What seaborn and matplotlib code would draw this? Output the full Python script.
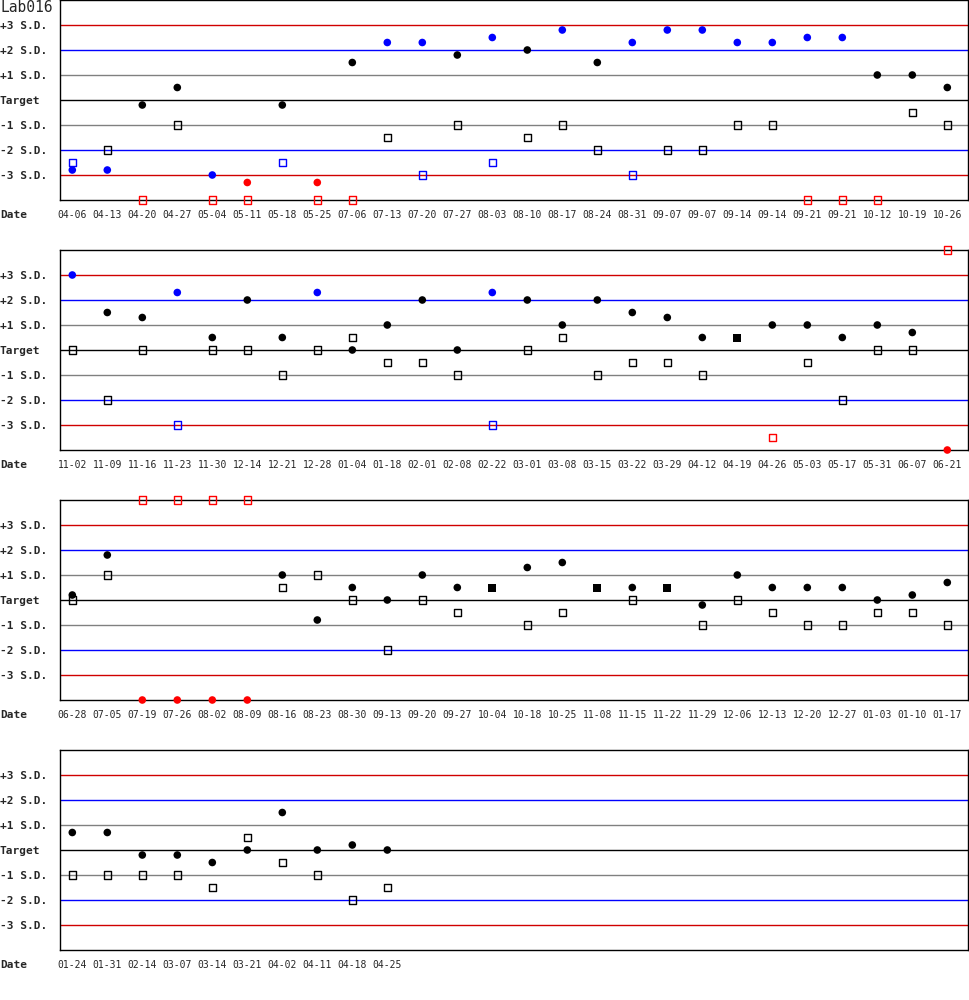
import numpy as np
import pandas as pd
import matplotlib
matplotlib.use("Agg")
import matplotlib.pyplot as plt
import seaborn as sns

# ---------------- data ----------------
title = "Lab016"

dates1 = ["04-06", "04-13", "04-20", "04-27", "05-04", "05-11", "05-18", "05-25", "07-06",
          "07-13", "07-20", "07-27", "08-03", "08-10", "08-17", "08-24", "08-31", "09-07",
          "09-07", "09-14", "09-14", "09-21", "09-21", "10-12", "10-19", "10-26"]
circ1 = [-2.8, -2.8, -0.2, 0.5, -3.0, -3.3, -0.2, -3.3, 1.5, 2.3, 2.3, 1.8, 2.5, 2.0, 2.8,
         1.5, 2.3, 2.8, 2.8, 2.3, 2.3, 2.5, 2.5, 1.0, 1.0, 0.5]
sq1 = [-2.5, -2.0, -4.0, -1.0, -4.0, -4.0, -2.5, -4.0, -4.0, -1.5, -3.0, -1.0, -2.5, -1.5,
       -1.0, -2.0, -3.0, -2.0, -2.0, -1.0, -1.0, -4.0, -4.0, -4.0, -0.5, -1.0]

dates2 = ["11-02", "11-09", "11-16", "11-23", "11-30", "12-14", "12-21", "12-28", "01-04",
          "01-18", "02-01", "02-08", "02-22", "03-01", "03-08", "03-15", "03-22", "03-29",
          "04-12", "04-19", "04-26", "05-03", "05-17", "05-31", "06-07", "06-21"]
circ2 = [3.0, 1.5, 1.3, 2.3, 0.5, 2.0, 0.5, 2.3, 0.0, 1.0, 2.0, 0.0, 2.3, 2.0, 1.0, 2.0,
         1.5, 1.3, 0.5, 0.5, 1.0, 1.0, 0.5, 1.0, 0.7, -4.0]
sq2 = [0.0, -2.0, 0.0, -3.0, 0.0, 0.0, -1.0, 0.0, 0.5, -0.5, -0.5, -1.0, -3.0, 0.0, 0.5,
       -1.0, -0.5, -0.5, -1.0, 0.5, -3.5, -0.5, -2.0, 0.0, 0.0, 4.0]

dates3 = ["06-28", "07-05", "07-19", "07-26", "08-02", "08-09", "08-16", "08-23", "08-30",
          "09-13", "09-20", "09-27", "10-04", "10-18", "10-25", "11-08", "11-15", "11-22",
          "11-29", "12-06", "12-13", "12-20", "12-27", "01-03", "01-10", "01-17"]
circ3 = [0.2, 1.8, -4.0, -4.0, -4.0, -4.0, 1.0, -0.8, 0.5, 0.0, 1.0, 0.5, 0.5, 1.3, 1.5,
         0.5, 0.5, 0.5, -0.2, 1.0, 0.5, 0.5, 0.5, 0.0, 0.2, 0.7]
sq3 = [0.0, 1.0, 4.0, 4.0, 4.0, 4.0, 0.5, 1.0, 0.0, -2.0, 0.0, -0.5, 0.5, -1.0, -0.5, 0.5,
       0.0, 0.5, -1.0, 0.0, -0.5, -1.0, -1.0, -0.5, -0.5, -1.0]

dates4 = ["01-24", "01-31", "02-14", "03-07", "03-14", "03-21", "04-02", "04-11", "04-18",
          "04-25"]
circ4 = [0.7, 0.7, -0.2, -0.2, -0.5, 0.0, 1.5, 0.0, 0.2, 0.0]
sq4 = [-1.0, -1.0, -1.0, -1.0, -1.5, 0.5, -0.5, -1.0, -2.0, -1.5]

panels = [(dates1, circ1, sq1), (dates2, circ2, sq2), (dates3, circ3, sq3), (dates4, circ4, sq4)]

sd_levels = [3, 2, 1, 0, -1, -2, -3]
sd_labels = ["+3 S.D.", "+2 S.D.", "+1 S.D.", "Target", "-1 S.D.", "-2 S.D.", "-3 S.D."]
sd_colors = ["#d00000", "#0000ff", "#808080", "#000000", "#808080", "#0000ff", "#d00000"]

palette = {"ok": "#000000", "warn": "#0000ff", "out": "#ff0000"}

# ---------------- style ----------------
sns.set_style("white")
plt.rcParams["font.family"] = ["DejaVu Sans Mono", "DejaVu Sans"]

W, H = 970, 1000
fig = plt.figure(figsize=(W / 100, H / 100), dpi=100)

AX_L, AX_R = 60.3, 968.5
X0, DX = 72.3, 35.0
xmin = (AX_L - X0) / DX
xmax = (AX_R - X0) / DX


def status(v):
    a = abs(v)
    if a > 3:
        return "out"
    if a > 2:
        return "warn"
    return "ok"


for k, (dates, circ, sq) in enumerate(panels):
    top = 250 * k
    ax = fig.add_axes([AX_L / W, 1 - (top + 200) / H, (AX_R - AX_L) / W, 200 / H])
    n = len(dates)
    df = pd.DataFrame({"pos": np.arange(n), "date": dates, "circ": circ, "sq": sq})
    df["both"] = df["circ"] == df["sq"]
    df["cst"] = df["circ"].map(status)
    df["sst"] = df["sq"].map(status)

    for lvl, col in zip(sd_levels, sd_colors):
        ax.axhline(lvl, color=col, lw=1.0, zorder=1)

    single = df[~df["both"]]
    both = df[df["both"]]

    # open squares
    if len(single):
        sns.scatterplot(data=single, x="pos", y="sq", hue="sst", palette=palette,
                        marker="s", s=26, linewidth=0, legend=False, ax=ax,
                        clip_on=False, zorder=3)
        coll = ax.collections[-1]
        fc = coll.get_facecolors()
        coll.set_edgecolors(fc)
        coll.set_facecolors("none")
        coll.set_linewidths(1.0)
    # coinciding values -> filled square
    if len(both):
        sns.scatterplot(data=both, x="pos", y="circ", color="#000000",
                        marker="s", s=40, linewidth=0, legend=False, ax=ax,
                        clip_on=False, zorder=4)
    # filled circles
    if len(single):
        sns.scatterplot(data=single, x="pos", y="circ", hue="cst", palette=palette,
                        marker="o", s=30, linewidth=0, legend=False, ax=ax,
                        clip_on=False, zorder=5)

    ax.set_xlim(xmin, xmax)
    ax.set_ylim(-4, 4)
    ax.set_xticks(np.arange(n))
    ax.set_xticklabels(dates, fontsize=7)
    ax.set_yticks(sd_levels)
    ax.set_yticklabels(sd_labels, fontsize=8, fontweight="bold")
    ax.tick_params(axis="x", length=0, pad=7.5)
    ax.tick_params(axis="y", length=0, pad=AX_L * 0.72)
    for lbl in ax.get_yticklabels():
        lbl.set_ha("left")
    ax.set_xlabel("")
    ax.set_ylabel("")
    for sp in ax.spines.values():
        sp.set_visible(True)
        sp.set_color("black")
        sp.set_linewidth(1.0)
        sp.set_zorder(2)

    fig.text(0.0, 1 - (top + 215) / H, "Date", fontsize=8, fontweight="bold",
             ha="left", va="center")

fig.text(0.0, 1 - 8 / H, title, fontsize=10.5, ha="left", va="center")

fig.savefig("out.png", dpi=100)
